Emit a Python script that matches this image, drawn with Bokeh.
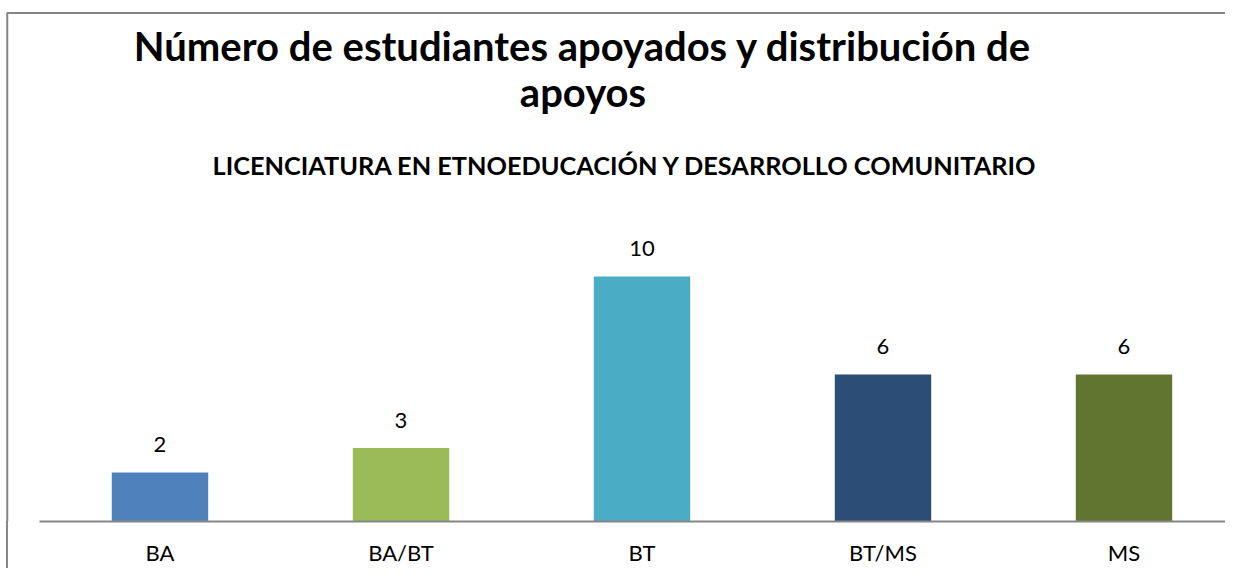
from bokeh.plotting import figure
from bokeh.models import ColumnDataSource, Range1d, FixedTicker
from bokeh.core.properties import value
from bokeh.embed import file_html
from bokeh.resources import INLINE

# ---- data ----
categories = ["BA", "BA/BT", "BT", "BT/MS", "MS"]
counts = [2, 3, 10, 6, 6]
bar_colors = ["#4F81BD", "#9BBB59", "#4BACC6", "#2C4D75", "#5F7530"]
title_lines = ["Número de estudiantes apoyados y distribución de", "apoyos"]
subtitle = "LICENCIATURA EN ETNOEDUCACIÓN Y DESARROLLO COMUNITARIO"

# ---- layout constants (pixels, canvas coordinates) ----
W, H = 1225, 568
FRAME_BOTTOM = 521
PX_PER_CAT = 241.0
PX_PER_UNIT = 24.5
FONT = "Lato"
GRAY = "#868686"
BASELINE_FIX = 0.4  # svg text baseline correction (fraction of font size)

x_start = -159.5 / PX_PER_CAT
x_end = x_start + W / PX_PER_CAT
y_end = FRAME_BOTTOM / PX_PER_UNIT


def cx(px):
    return x_start + px / PX_PER_CAT


def cy(py):
    return (FRAME_BOTTOM - py) / PX_PER_UNIT


positions = list(range(len(categories)))
src = ColumnDataSource(dict(x=positions, top=counts, color=bar_colors,
                            label=[str(c) for c in counts]))

p = figure(width=W, height=H,
           x_range=Range1d(x_start, x_end), y_range=Range1d(0, y_end),
           output_backend="svg", toolbar_location=None, y_axis_location=None,
           min_border_left=0, min_border_right=0, min_border_top=0,
           min_border_bottom=H - FRAME_BOTTOM)
p.grid.visible = False
p.outline_line_color = None
p.background_fill_color = None
p.border_fill_color = None
# part of the chart-area's left edge that lies below the plotting frame
p.styles = {
    "background": "linear-gradient(#868686,#868686) 6px 521px / 2px 100% no-repeat"
}

# chart-area border: top edge and left edge (inside the frame)
bx, by = cx(6.75), cy(12.5)
p.line(x=[bx, bx, x_end + 1], y=[-1, by, by], line_color=GRAY, line_width=2)

p.vbar(x="x", top="top", width=0.4, fill_color="color", line_color=None, source=src)
p.text(x="x", y="top", text="label", source=src, text_align="center",
       text_baseline="alphabetic", y_offset=-19 - BASELINE_FIX * 22,
       text_font=value(FONT), text_font_size="22px", text_color="#000000")

ax = p.xaxis[0]
ax.ticker = FixedTicker(ticks=positions)
ax.major_label_overrides = {i: c for i, c in enumerate(categories)}
ax.bounds = (-0.5, x_end)
ax.major_tick_line_color = None
ax.minor_tick_line_color = None
ax.major_tick_out = 0
ax.major_tick_in = 0
ax.minor_tick_out = 0
ax.axis_line_color = GRAY
ax.axis_line_width = 2
ax.major_label_standoff = 17
ax.major_label_text_font = FONT
ax.major_label_text_font_size = "22px"
ax.major_label_text_color = "#000000"

p.text(x=[cx(582.5)] * 2, y=[cy(61), cy(107)], text=title_lines,
       text_align="center", text_baseline="alphabetic",
       y_offset=-BASELINE_FIX * 40,
       text_font=value(FONT), text_font_style="bold",
       text_font_size="40px", text_color="#000000")
p.text(x=[cx(625)], y=[cy(175)], text=[subtitle],
       text_align="center", text_baseline="alphabetic",
       y_offset=-BASELINE_FIX * 25.3,
       text_font=value(FONT), text_font_style="bold",
       text_font_size="25.3px", text_color="#000000")

open("out.html", "w").write(file_html(p, INLINE))
